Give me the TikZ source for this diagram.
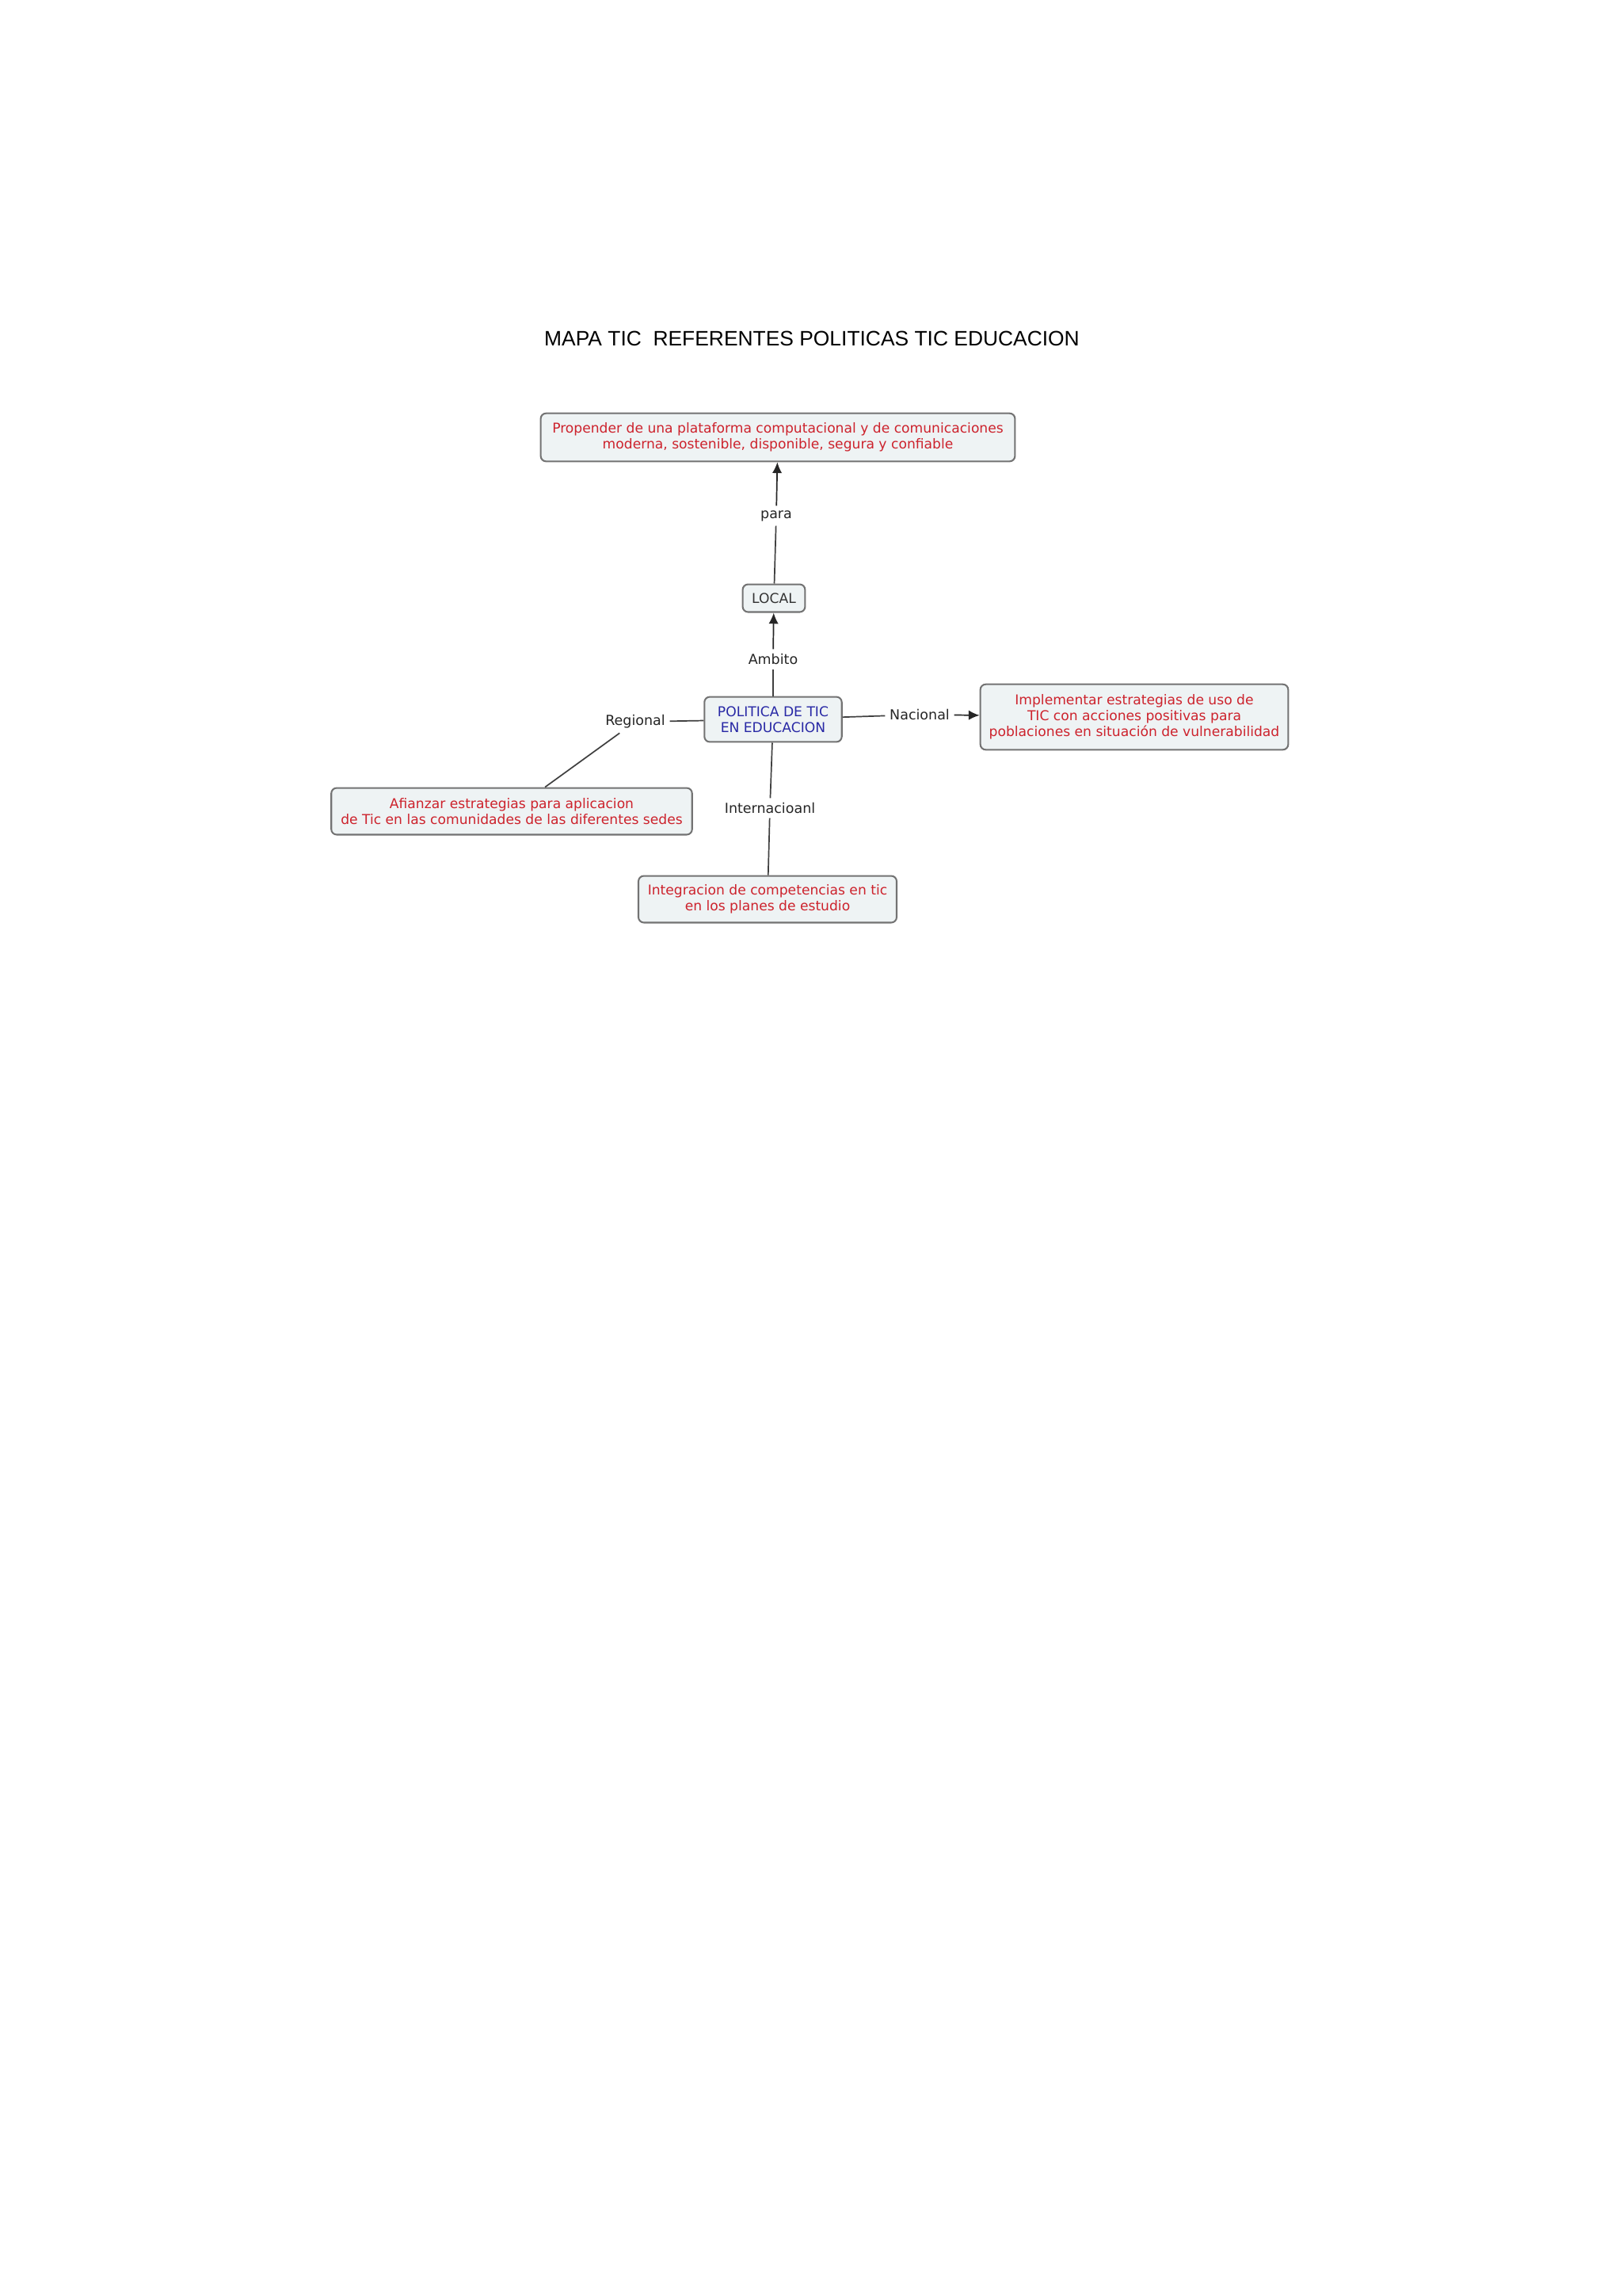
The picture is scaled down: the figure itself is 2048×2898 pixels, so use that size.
\documentclass[tikz,border=0pt]{standalone}
\usepackage{fontspec}
\setmainfont{DejaVu Sans}
\newfontfamily\titlefont{Liberation Sans}
\usetikzlibrary{arrows.meta}
\definecolor{cfill}{RGB}{238,243,244}
\definecolor{cred}{RGB}{205,35,45}
\definecolor{cblue}{RGB}{40,40,165}
\tikzset{
  cpt/.style={rectangle,rounded corners=2pt,draw=black!55,fill=cfill,line width=.6pt,align=center,
    font=\fontsize{5}{5.9}\selectfont,text=cred,inner sep=0pt},
  lnk/.style={draw=black!75,line width=.5pt},
  msg/.style={-{Latex[length=4pt,width=3.6pt]},line width=.5pt,draw=black!85},
  lb/.style={font=\fontsize{5.1}{6}\selectfont,text=black!85,inner sep=1.5pt},
  ttl/.style={font=\titlefont\fontsize{7.7}{9}\selectfont},
}
\begin{document}
\begin{tikzpicture}[x=0.010254cm,y=-0.010254cm]
\useasboundingbox[fill=white] (0,0) rectangle (2048,2898);
\node[ttl] (title) at (1025,427) {MAPA TIC\ \ REFERENTES POLITICAS TIC EDUCACION};
% concepts
\node[cpt,minimum width=174.7pt,minimum height=17.7pt] (prop) at (982,552)
  {Propender de una plataforma computacional y de comunicaciones\\ moderna, sostenible, disponible, segura y confiable};
\node[cpt,text=black!80,minimum width=23pt,minimum height=10.2pt] (local) at (977,755) {LOCAL};
\node[cpt,text=cblue,minimum width=50.6pt,minimum height=16.6pt] (pol) at (976,908)
  {POLITICA DE TIC\\ EN EDUCACION};
\node[cpt,minimum width=113.4pt,minimum height=24.1pt] (impl) at (1432,905)
  {Implementar estrategias de uso de\\ TIC con acciones positivas para\\ poblaciones en situaci\'on de vulnerabilidad};
\node[cpt,minimum width=132.9pt,minimum height=17.2pt] (afi) at (646,1024)
  {Afianzar estrategias para aplicacion\\ de Tic en las comunidades de las diferentes sedes};
\node[cpt,minimum width=95.1pt,minimum height=17.2pt] (integ) at (969,1135)
  {Integracion de competencias en tic\\ en los planes de estudio};
% linking phrases
\node[lb] (para) at (980,651) {para};
\node[lb] (amb) at (976,832) {Ambito};
\node[lb] (reg) at (802,911) {Regional};
\node[lb] (nac) at (1161,902) {Nacional};
\node[lb] (inter) at (972,1020) {Internacioanl};
\draw[lnk] (local) -- (para);
\draw[msg] (para) -- (prop);
\draw[lnk] (pol) -- (amb);
\draw[msg] (amb) -- (local);
\draw[lnk] (pol) -- (nac);
\draw[msg] (nac) -- (impl);
\draw[lnk] (pol) -- (reg);
\draw[lnk] (reg) -- (afi);
\draw[lnk] (pol) -- (inter);
\draw[lnk] (inter) -- (integ);
\end{tikzpicture}
\end{document}
